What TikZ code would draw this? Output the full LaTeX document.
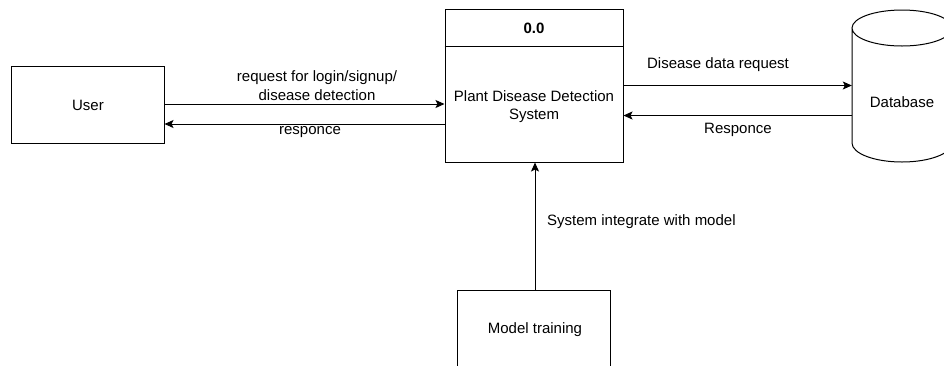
\documentclass[tikz,border=0pt]{standalone}
\usepackage{fontspec}
\setmainfont{Liberation Sans}
\usetikzlibrary{arrows.meta}
\begin{document}
\begin{tikzpicture}[x=1pt,y=-1pt,
  box/.style={draw, line width=1pt, inner sep=0pt, align=center},
  flow/.style={line width=1pt, -{Stealth[length=9pt,width=8pt,inset=2pt]}},
  lbl/.style={font=\fontsize{15}{19}\selectfont, inner sep=0pt, anchor=base},
  every node/.style={font=\fontsize{15}{19}\selectfont}]
\useasboundingbox (0,0) rectangle (944,365);
\clip (0,0) rectangle (944,365);
\fill[white] (0,0) rectangle (944,365);

% external entity
\node[box, minimum width=153pt, minimum height=77pt] (user) at (87.5,104.5) {};
\node[lbl] (usertxt) at (88,110) {User};

% process with header strip
\node[box, minimum width=178pt, minimum height=153pt] (sys) at (534,85.5) {};
\draw[line width=1pt] (sys.west |- 0,46) -- (sys.east |- 0,46);
\node[lbl, font=\fontsize{15}{19}\selectfont\bfseries] (num) at (534,33) {0.0};
\node[lbl] (systxt1) at (534,101) {Plant Disease Detection};
\node[lbl] (systxt2) at (534,119.5) {System};

% data store drawn as a cylinder
\draw[line width=1pt, fill=white]
  (852,28) -- (852,143) arc[start angle=180, end angle=360, x radius=50, y radius=-19]
  -- (952,28) arc[start angle=0, end angle=180, x radius=50, y radius=-18]
  arc[start angle=180, end angle=360, x radius=50, y radius=-18];
\node[inner sep=0pt, minimum width=100pt, minimum height=152pt] (db) at (902,86) {};
\node[lbl] (dbtxt) at (902,107) {Database};

% training box
\node[box, minimum width=153pt, minimum height=120pt] (train) at (533.5,350) {};
\node[lbl] (traintxt) at (535,333) {Model training};

% flows
\draw[flow] (user.east |- 0,104) -- (sys.west |- 0,104);
\draw[flow] (sys.west |- 0,124) -- (user.east |- 0,124);
\draw[flow] (sys.east |- 0,85.5) -- (db.west |- 0,85.5);
\draw[flow] (db.west |- 0,115.5) -- (sys.east |- 0,115.5);
\draw[flow] (train.north -| 535,0) -- (sys.south -| 535,0);

% flow labels
\node[lbl] (l1a) at (317,81) {request for login/signup/};
\node[lbl] (l1b) at (317,100) {disease detection};
\node[lbl] (l2) at (310,134) {responce};
\node[lbl] (l3) at (718,68) {Disease data request};
\node[lbl] (l4) at (738,133) {Responce};
\node[lbl, anchor=base west] (l5) at (547,225) {System integrate with model};
\end{tikzpicture}
\end{document}
